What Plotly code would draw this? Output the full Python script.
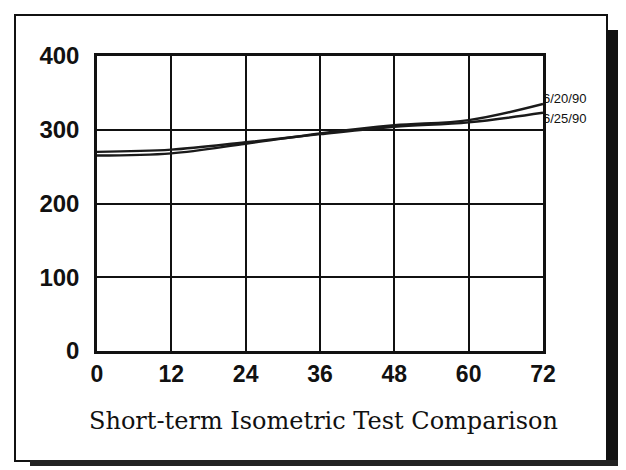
import plotly.graph_objects as go

hours = [0, 12, 24, 36, 48, 60, 72]
series_620 = [265, 268, 281, 295, 306, 313, 335]
series_625 = [270, 273, 283, 294, 304, 310, 323]
labels = ["6/20/90", "6/25/90"]
x_ticks = [0, 12, 24, 36, 48, 60, 72]
y_ticks = [0, 100, 200, 300, 400]
title_text = "Short-term Isometric Test Comparison"

OFF = 8  # page body margin
W, H = 626 - OFF, 470 - OFF
L, R, T, B = 97 - OFF, 543 - OFF, 56 - OFF, 351 - OFF

def px(x):
    return (x - OFF - L) / (R - L)

def py(y):
    return (B - (y - OFF)) / (B - T)

fig = go.Figure()
for name, vals in zip(labels, [series_620, series_625]):
    fig.add_trace(go.Scatter(x=hours, y=vals, mode="lines", name=name,
                             line=dict(color="#1a1a1a", width=2.4, shape="spline"),
                             showlegend=False))

for name, vals, yshift in zip(labels, [series_620, series_625], [5, -6]):
    fig.add_annotation(x=hours[-1], y=vals[-1], xref="x", yref="y", text=name,
                       showarrow=False, xanchor="left", yanchor="middle", xshift=-2, yshift=yshift,
                       font=dict(family="Liberation Sans Narrow, Liberation Sans, Arial", size=13, color="#111"))

fig.add_annotation(x=px(323), y=py(421), xref="paper", yref="paper", text=title_text, showarrow=False,
                   xanchor="center", yanchor="middle",
                   font=dict(family="DejaVu Serif, serif", size=24, color="#111"))

shapes = []
shapes.append(dict(type="rect", xref="paper", yref="paper", x0=px(15), x1=px(607), y0=py(461), y1=py(15),
                   line=dict(color="#111", width=2)))
shapes.append(dict(type="rect", xref="paper", yref="paper", x0=px(606), x1=px(620), y0=py(466), y1=py(30),
                   line=dict(width=0), fillcolor="#111"))
shapes.append(dict(type="rect", xref="paper", yref="paper", x0=px(30), x1=px(620), y0=py(466), y1=py(460),
                   line=dict(width=0), fillcolor="#222"))
fig.update_layout(shapes=shapes)

fig.update_layout(
    width=W, height=H,
    margin=dict(l=L, r=W - R, t=T, b=H - B),
    paper_bgcolor="white", plot_bgcolor="white",
    font=dict(family="Liberation Sans, Arial", color="#111"),
    xaxis=dict(range=[0, 72], tickvals=x_ticks, showgrid=True, gridcolor="#111", gridwidth=2,
               showline=True, linecolor="#111", linewidth=2.5, mirror=True, zeroline=False,
               ticks="", ticklabelstandoff=1,
               tickfont=dict(family="Liberation Sans, Arial", size=23, color="#111", weight="bold")),
    yaxis=dict(range=[0, 400], tickvals=y_ticks, showgrid=True, gridcolor="#111", gridwidth=2,
               showline=True, linecolor="#111", linewidth=2.5, mirror=True, zeroline=False,
               ticks="", ticklabelstandoff=10,
               tickfont=dict(family="Liberation Sans, Arial", size=24, color="#111", weight="bold")),
)

fig.write_html("out.html")
